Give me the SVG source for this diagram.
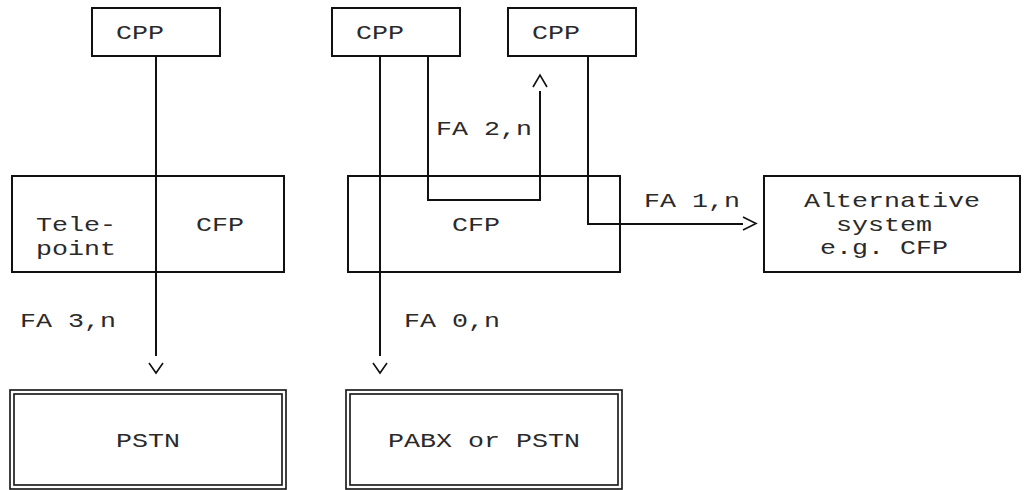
<svg xmlns="http://www.w3.org/2000/svg" width="1033" height="490" viewBox="0 0 1033 490">
  <style>
    .box { fill: none; stroke: #111; stroke-width: 2; }
    .dbl { fill: none; stroke: #111; stroke-width: 1.6; }
    .wire { fill: none; stroke: #111; stroke-width: 2; }
    .head { fill: none; stroke: #111; stroke-width: 1.6; stroke-linejoin: miter; }
    text { font-family: "Liberation Mono", "DejaVu Sans Mono", monospace; font-size: 21px; fill: #2a2a2a; }
  </style>
  <rect width="1033" height="490" fill="#fff"/>

  <!-- nodes on a 16 x 24 character grid; each text run is stretched to 16px per character -->
  <g id="cpp-teleoint">
    <rect class="box" x="92" y="8" width="128" height="48"/>
    <text x="116" y="39" textLength="48" lengthAdjust="spacingAndGlyphs">CPP</text>
  </g>
  <g id="cpp-a">
    <rect class="box" x="332" y="8" width="128" height="48"/>
    <text x="356" y="39" textLength="48" lengthAdjust="spacingAndGlyphs">CPP</text>
  </g>
  <g id="cpp-b">
    <rect class="box" x="508" y="8" width="128" height="48"/>
    <text x="532" y="39" textLength="48" lengthAdjust="spacingAndGlyphs">CPP</text>
  </g>
  <g id="telepoint-cfp">
    <rect class="box" x="12" y="176" width="272" height="96"/>
    <text x="36" y="231" textLength="80" lengthAdjust="spacingAndGlyphs">Tele-</text>
    <text x="36" y="255" textLength="80" lengthAdjust="spacingAndGlyphs">point</text>
    <text x="196" y="231" textLength="48" lengthAdjust="spacingAndGlyphs">CFP</text>
  </g>
  <g id="cfp">
    <rect class="box" x="348" y="176" width="272" height="96"/>
    <text x="452" y="231" textLength="48" lengthAdjust="spacingAndGlyphs">CFP</text>
  </g>
  <g id="alternative">
    <rect class="box" x="764" y="176" width="256" height="96"/>
    <text x="804" y="207" textLength="176" lengthAdjust="spacingAndGlyphs">Alternative</text>
    <text x="836" y="231" textLength="96" lengthAdjust="spacingAndGlyphs">system</text>
    <text x="820" y="254" textLength="128" lengthAdjust="spacingAndGlyphs">e.g. CFP</text>
  </g>
  <g id="pstn">
    <rect class="dbl" x="10" y="390" width="276" height="99"/>
    <rect class="dbl" x="14" y="394" width="268" height="91"/>
    <text x="116" y="447" textLength="64" lengthAdjust="spacingAndGlyphs">PSTN</text>
  </g>
  <g id="pabx">
    <rect class="dbl" x="346" y="390" width="276" height="99"/>
    <rect class="dbl" x="350" y="394" width="268" height="91"/>
    <text x="388" y="447" textLength="192" lengthAdjust="spacingAndGlyphs">PABX or PSTN</text>
  </g>

  <!-- links with their open chevron heads -->
  <g id="connectors">
    <path class="wire" d="M156,56 V356"/>
    <path class="head" d="M149,363 L156,373 L163,363"/>
    <text x="20" y="327" textLength="96" lengthAdjust="spacingAndGlyphs">FA 3,n</text>

    <path class="wire" d="M380,56 V356"/>
    <path class="head" d="M373,363 L380,373 L387,363"/>
    <text x="404" y="327" textLength="96" lengthAdjust="spacingAndGlyphs">FA 0,n</text>

    <path class="wire" d="M428,56 V200 H540 V91"/>
    <path class="head" d="M533,87 L540,75 L547,87"/>
    <text x="436" y="135" textLength="96" lengthAdjust="spacingAndGlyphs">FA 2,n</text>

    <path class="wire" d="M588,56 V224 H743"/>
    <path class="head" d="M743,217 L756,223.5 L743,230"/>
    <text x="644" y="207" textLength="96" lengthAdjust="spacingAndGlyphs">FA 1,n</text>
  </g>
</svg>
